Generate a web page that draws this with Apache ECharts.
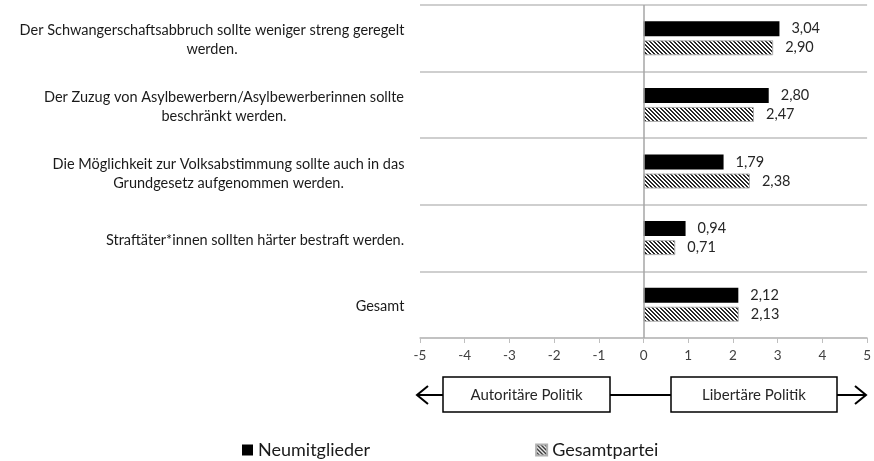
<!DOCTYPE html>
<html><head><meta charset="utf-8">
<script src="https://cdn.jsdelivr.net/npm/echarts@6/dist/echarts.min.js"></script>
<style>html,body{margin:0;padding:0;background:#fff}#c{width:874px;height:461px}</style>
</head><body><div id="c"></div>
<script>
const categories = [
  'Der Schwangerschaftsabbruch sollte weniger streng geregelt\nwerden.',
  'Der Zuzug von Asylbewerbern/Asylbewerberinnen sollte\nbeschränkt werden.',
  'Die Möglichkeit zur Volksabstimmung sollte auch in das\nGrundgesetz aufgenommen werden.',
  'Straftäter*innen sollten härter bestraft werden.',
  'Gesamt'
];
const neumitglieder = [3.04, 2.80, 1.79, 0.94, 2.12];
const gesamtpartei = [2.90, 2.47, 2.38, 0.71, 2.13];
const seriesNames = ['Neumitglieder', 'Gesamtpartei'];
const xTicks = [-5, -4, -3, -2, -1, 0, 1, 2, 3, 4, 5];
const directionLabels = ['Autoritäre Politik', 'Libertäre Politik'];

const FONT = 'Lato';
const LABEL_SIZE = 14.5;

// hatch pattern
const pc = document.createElement('canvas');
pc.width = 4; pc.height = 4;
const px = pc.getContext('2d');
px.fillStyle = '#ffffff'; px.fillRect(0,0,4,4);
px.fillStyle = '#2a2a2a';
for (let i = 0; i < 4; i++) { px.fillRect(i, i, 1, 1); px.fillRect((i+1)%4, i, 1, 1); }

// measure lines for centered multi-line labels
const mc = document.createElement('canvas').getContext('2d');
mc.font = LABEL_SIZE + 'px ' + FONT;
const rich = {};
categories.forEach((c, i) => {
  const w = Math.max(...c.split('\n').map(l => mc.measureText(l).width));
  rich['c' + i] = { width: Math.ceil(w) + 1, align: 'center', fontSize: LABEL_SIZE, fontFamily: FONT, color: '#1a1a1a', lineHeight: 19 };
});

const chart = echarts.init(document.getElementById('c'));
const fmt = v => v.toFixed(2).replace('.', ',');
const option = {
  animation: false,
  textStyle: { fontFamily: FONT },
  grid: { left: 420, right: 6, top: 5, bottom: 123, containLabel: false },
  xAxis: {
    type: 'value', min: -5, max: 5, interval: 1,
    axisLine: { show: true, lineStyle: { color: '#bfbfbf', width: 1.5 } },
    axisTick: { show: true, length: 5, lineStyle: { color: '#bfbfbf' } },
    splitLine: { show: false },
    axisLabel: { color: '#404040', fontSize: 13.5, fontFamily: FONT, margin: 11,
      formatter: v => xTicks.includes(v) ? String(v) : '' }
  },
  yAxis: {
    type: 'category', inverse: true, data: categories,
    axisLine: { show: false }, axisTick: { show: false },
    splitLine: { show: true, lineStyle: { color: '#bfbfbf', width: 1.5 } },
    axisLabel: {
      margin: 15, align: 'right', rich: rich, padding: [4, 0, 0, 0],
      formatter: (v, idx) => v.split('\n').map(l => '{c' + idx + '|' + l + '}').join('\n')
    }
  },
  legend: {
    top: 436, left: 237, itemGap: 165, itemWidth: 11, itemHeight: 11,
    icon: 'rect',
    textStyle: { fontSize: 18, color: '#1a1a1a', fontFamily: FONT },
    data: seriesNames
  },
  series: [
    {
      name: seriesNames[0], type: 'bar', data: neumitglieder,
      barWidth: 15, barGap: '27%',
      itemStyle: { color: '#000000' },
      label: { show: true, position: 'right', distance: 12, color: '#262626', fontSize: 14.5, fontFamily: FONT, formatter: p => fmt(p.value) },
      markLine: { silent: true, symbol: 'none', label: { show: false },
        lineStyle: { color: '#a6a6a6', width: 1.5, type: 'solid' }, data: [{ xAxis: 0 }] }
    },
    {
      name: seriesNames[1], type: 'bar', data: gesamtpartei,
      barWidth: 15,
      itemStyle: { color: { image: pc, repeat: 'repeat' }, borderColor: '#b0b0b0', borderWidth: 1 },
      label: { show: true, position: 'right', distance: 12, color: '#262626', fontSize: 14.5, fontFamily: FONT, formatter: p => fmt(p.value) }
    }
  ],
  graphic: [
    { type: 'line', shape: { x1: 417, y1: 395, x2: 866, y2: 395 }, style: { stroke: '#000', lineWidth: 2 } },
    { type: 'polyline', shape: { points: [[428, 386], [417, 395], [428, 404]] }, style: { stroke: '#000', lineWidth: 2, fill: null } },
    { type: 'polyline', shape: { points: [[855, 386], [866, 395], [855, 404]] }, style: { stroke: '#000', lineWidth: 2, fill: null } },
    { type: 'rect', shape: { x: 443, y: 377, width: 167, height: 35 }, style: { fill: '#fff', stroke: '#000', lineWidth: 1.5 } },
    { type: 'rect', shape: { x: 671, y: 377, width: 166, height: 35 }, style: { fill: '#fff', stroke: '#000', lineWidth: 1.5 } },
    { type: 'text', x: 526.5, y: 395, style: { text: directionLabels[0], align: 'center', verticalAlign: 'middle', fontSize: 15, fontFamily: FONT, fill: '#262626' } },
    { type: 'text', x: 754, y: 395, style: { text: directionLabels[1], align: 'center', verticalAlign: 'middle', fontSize: 15, fontFamily: FONT, fill: '#262626' } }
  ]
};
chart.setOption(option);
</script></body></html>
